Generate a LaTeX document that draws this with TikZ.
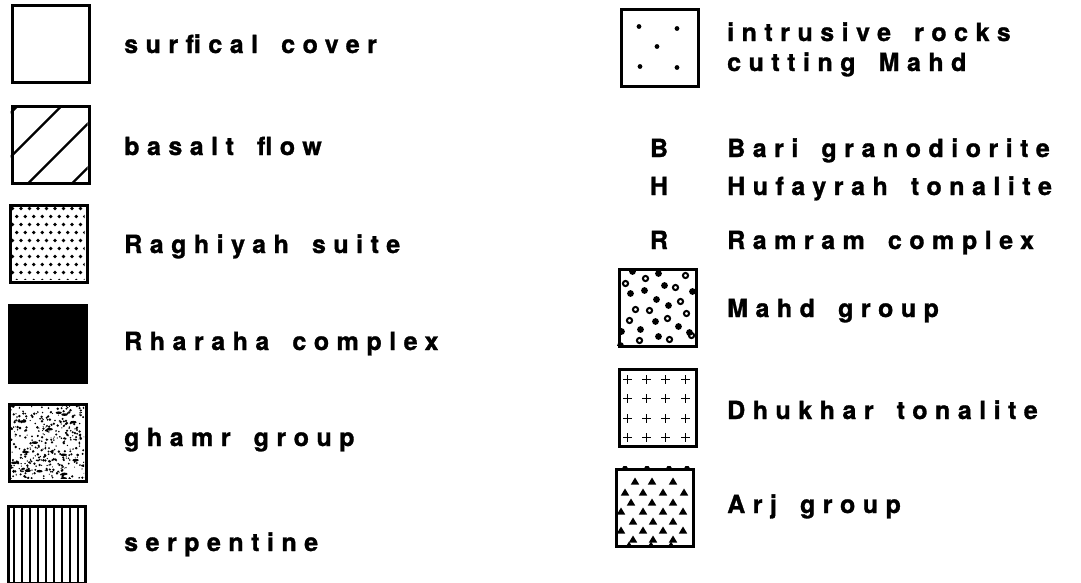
\documentclass[tikz,border=0pt]{standalone}
\usepackage{fontspec}
\setmainfont{TeX Gyre Heros}[LetterSpace=30,WordSpace=1.6,BoldFeatures={FakeBold=1.2}]
\usetikzlibrary{positioning}

\tikzset{
  legbox/.style={draw,line width=3pt,minimum size=77pt,inner sep=0pt},
  leglabel/.style={anchor=base west,inner sep=0pt,font=\bfseries\fontsize{25}{30}\selectfont},
  legletter/.style={anchor=base,inner sep=0pt,font=\bfseries\fontsize{25}{30}\selectfont},
  ring/.style={draw=black,line width=2pt}
}

\begin{document}
\begin{tikzpicture}[x=1pt,y=-1pt]
  \useasboundingbox (0,0) rectangle (1081,582);

  % left column
  \node[legbox] (surf)   at (50.5,44)  {};
  \node[legbox] (basalt) at (50.5,145) {};
  \node[legbox] (ragh)   at (48.5,243.5) {};
  \node[legbox,fill=black] (rhar) at (48,343.5) {};
  \node[legbox] (ghamr)  at (48,442.5) {};
  \node[legbox] (serp)   at (46.5,545) {};

  % right column
  \node[legbox] (intr)   at (660,47.5) {};
  \node[legbox] (mahd)   at (657.5,307.5) {};
  \node[legbox] (dhuk)   at (657.5,407.5) {};
  \node[legbox] (arj)    at (655,507.5) {};

  % basalt flow
  \begin{scope}[shift={(basalt.north west)}]
    \clip (0,0) rectangle (77,77);
    \foreach \c in {8,52,96,140}
      \draw[line width=2.3pt] (\c,0) -- (0,\c);
  \end{scope}

  % Raghiyah suite
  \begin{scope}[shift={(ragh.north west)}]
    \clip (1,1) rectangle (76,76);
    \foreach \j in {0,...,9}
      \foreach \i in {0,...,9}
        \fill ({4+8.5*\i+4.25*mod(\j,2)},{5+8*\j}) circle (1.8pt);
  \end{scope}

  % ghamr group
  \begin{scope}[shift={(ghamr.north west)}]
    \clip (1,1) rectangle (76,76);
    \pgfmathsetseed{4711}
    \foreach \k in {1,...,420}{
      \pgfmathsetmacro{\px}{rnd*77}
      \pgfmathsetmacro{\py}{rnd*77}
      \pgfmathsetmacro{\pr}{0.5+rnd*0.9}
      \fill (\px,\py) circle (\pr pt);
    }
    \foreach \k in {1,...,16}{
      \pgfmathsetmacro{\px}{rnd*77}
      \pgfmathsetmacro{\py}{rnd*77}
      \fill (\px,\py) ellipse (3.2pt and 1.3pt);
    }
  \end{scope}

  % serpentine
  \begin{scope}[shift={(serp.north west)}]
    \foreach \k in {0,...,8}
      \draw[line width=2pt] ({7+8*\k},0) -- ({7+8*\k},78);
  \end{scope}

  % intrusive rocks
  \begin{scope}[shift={(intr.north west)}]
    \foreach \p in {(19,19),(57,21),(37,39),(20,59),(57,60)}
      \fill \p circle (2.4pt);
  \end{scope}

  % Mahd group
  \begin{scope}[shift={(mahd.north west)}]
    \clip (-1,-1) rectangle (78,78);
    \foreach \p in {(15,4),(41,6),(47,18),(27,23),(13,26),(75,24),(39,32),
                    (51,38),(61,59),(38,54),(23,62),(4,64),(41,69),(72,65),(3,78)}
      \fill \p circle (3.4pt);
    \foreach \p in {(28,11),(8,16),(68,8),(58,20),(63,34),(18,42),(32,43),
                    (69,46),(50,51),(12,53),(22,73),(52,72),(74,68)}
      \draw[ring] \p circle (2.6pt);
  \end{scope}

  % Dhukhar tonalite
  \begin{scope}[shift={(dhuk.north west)}]
    \foreach \px in {10,29,48,68}
      \foreach \py in {12,31,51,70}
        \draw[line width=1.8pt] (\px-4.5,\py) -- (\px+4.5,\py)
                                (\px,\py-4.5) -- (\px,\py+4.5);
  \end{scope}

  % Arj group
  \begin{scope}[shift={(arj.north west)}]
    \clip (-1,-1) rectangle (77,78);
    \foreach \px/\py in {20/14,37/14,58/14,
                         10/25,28/25,48/25,69/25,
                         16/35,37/35,58/35,
                         6/44,28/44,48/44,68/44,
                         18/54,38/54,58/54,
                         6/63,28/63,48/63,68/63,
                         18/72,38/72,58/72,
                         10/0,32/0,54/0,72/0,14/78,36/78,56/78}
      \fill (\px-4.2,\py+3) -- (\px+4.2,\py+3) -- (\px,\py-4) -- cycle;
  \end{scope}

  % labels
  \node[leglabel] (lsurf)   at (124,53)  {surfical cover};
  \node[leglabel] (lbasalt) at (124,155) {basalt flow};
  \node[leglabel] (lragh)   at (124,253) {Raghiyah suite};
  \node[leglabel] (lrhar)   at (124,350) {Rharaha complex};
  \node[leglabel] (lghamr)  at (124,446) {ghamr group};
  \node[leglabel] (lserp)   at (124,551) {serpentine};

  \node[leglabel] (lintr)   at (727,41)  {intrusive rocks};
  \node[leglabel] (lcut)    at (727,71)  {cutting Mahd};
  \node[legletter] (sb)     at (659,157) {B};
  \node[leglabel] (lbari)   at (727,157) {Bari granodiorite};
  \node[legletter] (sh)     at (659,195) {H};
  \node[leglabel] (lhuf)    at (727,195) {Hufayrah tonalite};
  \node[legletter] (sr)     at (659,249) {R};
  \node[leglabel] (lram)    at (727,249) {Ramram complex};
  \node[leglabel] (lmahd)   at (727,317) {Mahd group};
  \node[leglabel] (ldhuk)   at (727,419) {Dhukhar tonalite};
  \node[leglabel] (larj)    at (727,513) {Arj group};
\end{tikzpicture}
\end{document}
